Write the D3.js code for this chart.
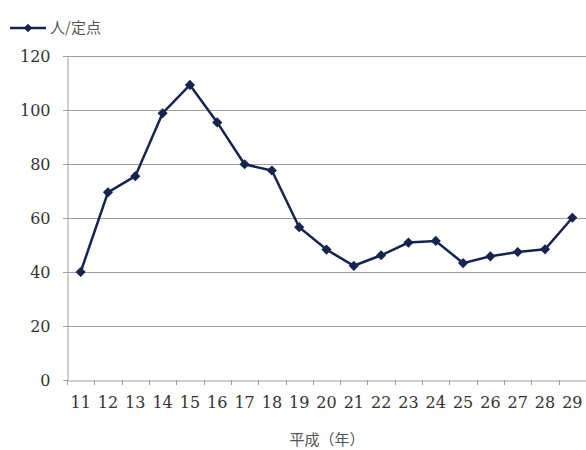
<!DOCTYPE html>
<html>
<head>
<meta charset="utf-8">
<script src="https://cdn.jsdelivr.net/npm/d3@7"></script>
<style>
  body { margin: 0; background: #fff; }
  svg { display: block; }
</style>
</head>
<body>
<div id="chart"></div>
<script>
var years = ["11","12","13","14","15","16","17","18","19","20","21","22","23","24","25","26","27","28","29"];
var perSite = [40, 69.5, 75.5, 98.8, 109.3, 95.4, 79.9, 77.6, 56.6, 48.3, 42.3, 46.2, 50.9, 51.5, 43.3, 45.8, 47.4, 48.4, 60.1];
var yTicks = [0, 20, 40, 60, 80, 100, 120];
var seriesName = "人/定点";
var xTitle = "平成（年）";

var width = 586, height = 450;
var margin = {left: 67, right: 0, top: 56, bottom: 70};

var svg = d3.select("#chart").append("svg")
  .attr("width", width)
  .attr("height", height);

var x = d3.scaleBand()
  .domain(years)
  .range([margin.left, width - margin.right]);

var y = d3.scaleLinear()
  .domain([0, 120])
  .range([height - margin.bottom, margin.top]);

var serif = "'DejaVu Serif', 'Liberation Serif', serif";
var jp = "'Noto Sans CJK JP', sans-serif";

// gridlines
svg.append("g").selectAll("line")
  .data(yTicks.filter(function(d) { return d > 0; }))
  .enter().append("line")
  .attr("x1", margin.left - 4)
  .attr("x2", width)
  .attr("y1", function(d) { return Math.round(y(d)) + 0.5; })
  .attr("y2", function(d) { return Math.round(y(d)) + 0.5; })
  .attr("stroke", "#a0a0a0")
  .attr("stroke-width", 1);

// y axis
var yAxis = svg.append("g")
  .attr("transform", "translate(" + (margin.left + 0.5) + ",0)")
  .call(d3.axisLeft(y).tickValues(yTicks).tickSize(4).tickPadding(13));
yAxis.select(".domain").attr("stroke", "#a0a0a0");
yAxis.selectAll(".tick line").attr("stroke", "#a0a0a0");
yAxis.selectAll("text")
  .attr("fill", "#333")
  .style("font-family", serif)
  .style("font-size", "16px");

// x axis
var xAxis = svg.append("g")
  .attr("transform", "translate(0," + (Math.round(y(0)) + 0.5) + ")")
  .call(d3.axisBottom(x).tickSize(0).tickPadding(16));
xAxis.select(".domain").attr("stroke", "#a0a0a0");
xAxis.selectAll("text")
  .attr("fill", "#333")
  .style("font-family", serif)
  .style("font-size", "16px");

// category ticks at band edges
svg.append("g").selectAll("line")
  .data(years)
  .enter().append("line")
  .attr("x1", function(d) { return Math.round(x(d)) + 0.5; })
  .attr("x2", function(d) { return Math.round(x(d)) + 0.5; })
  .attr("y1", Math.round(y(0)))
  .attr("y2", Math.round(y(0)) + 5)
  .attr("stroke", "#a0a0a0");

// x axis title
svg.append("text")
  .attr("x", 327)
  .attr("y", 445)
  .attr("text-anchor", "middle")
  .attr("fill", "#555")
  .style("font-family", jp)
  .style("font-size", "15px")
  .text(xTitle);

var lineColor = "#15254f";
var cx = function(d, i) { return x(years[i]) + x.bandwidth() / 2; };

svg.append("path")
  .datum(perSite)
  .attr("fill", "none")
  .attr("stroke", lineColor)
  .attr("stroke-width", 2.5)
  .attr("d", d3.line().x(cx).y(function(d) { return y(d); }));

// square marker turned 45 degrees
var diamond = d3.symbol().type(d3.symbolSquare).size(52);
svg.append("g").selectAll("path")
  .data(perSite)
  .enter().append("path")
  .attr("d", diamond)
  .attr("transform", function(d, i) { return "translate(" + cx(d, i) + "," + y(d) + ") rotate(45)"; })
  .attr("fill", lineColor);

// legend
var lg = svg.append("g").attr("transform", "translate(10,28)");
lg.append("line")
  .attr("x1", 0).attr("x2", 36)
  .attr("stroke", lineColor).attr("stroke-width", 2.5);
lg.append("path")
  .attr("d", d3.symbol().type(d3.symbolSquare).size(36))
  .attr("transform", "translate(18,0) rotate(45)")
  .attr("fill", lineColor);
lg.append("text")
  .attr("x", 40)
  .attr("dy", "0.35em")
  .attr("fill", "#555")
  .style("font-family", jp)
  .style("font-size", "15px")
  .text(seriesName);
</script>
</body>
</html>
